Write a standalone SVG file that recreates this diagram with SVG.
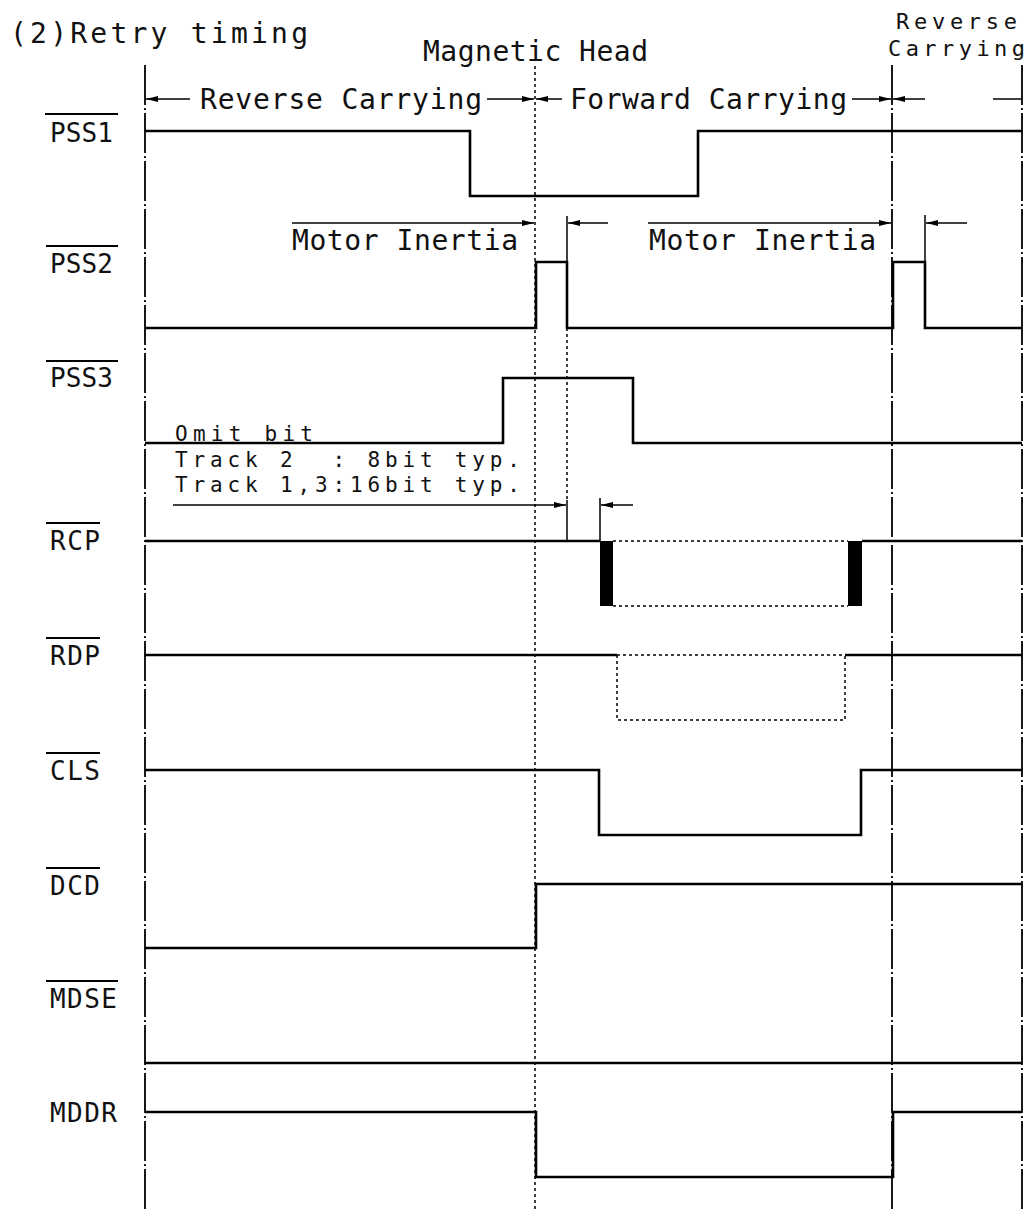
<svg xmlns="http://www.w3.org/2000/svg" width="1034" height="1209" viewBox="0 0 1034 1209">
<defs>
<marker id="arr" viewBox="0 0 12 6" refX="12" refY="3" markerWidth="12" markerHeight="6" markerUnits="userSpaceOnUse" orient="auto">
<path d="M0,0 L12,3 L0,6 Z" fill="#000"/>
</marker>
</defs>
<style>
text{font-family:"DejaVu Sans Mono","Liberation Mono",monospace;fill:#111;white-space:pre}
.t{font-size:28px}
.r{font-size:22px}
.s{font-size:21px}
.lb{font-size:26px}
.sig{fill:none;stroke:#000;stroke-width:2.6;stroke-linejoin:miter}
.bd{fill:none;stroke:#000;stroke-width:1.8;stroke-dasharray:40 3 2 3}
.dot{fill:none;stroke:#000;stroke-width:1.5;stroke-dasharray:3 3}
.dim{fill:none;stroke:#000;stroke-width:1.5}
.ov{stroke:#000;stroke-width:2}
</style>
<rect width="1034" height="1209" fill="#fff"/>

<g id="titles">
<text class="t" x="10" y="43" textLength="298" lengthAdjust="spacing">(2)Retry timing</text>
<text class="t" x="423" y="61" textLength="225" lengthAdjust="spacing">Magnetic Head</text>
<text class="r" x="896" y="29" textLength="121" lengthAdjust="spacing">Reverse</text>
<text class="r" x="888" y="56" textLength="137" lengthAdjust="spacing">Carrying</text>
</g>

<g id="connectors">
<line class="bd" x1="145" y1="65" x2="145" y2="1209"/>
<line class="bd" x1="892" y1="65" x2="892" y2="1209"/>
<line class="bd" x1="1022" y1="65" x2="1022" y2="1209"/>
<line class="dot" x1="535" y1="66" x2="535" y2="1209"/>
<line class="dot" x1="567" y1="328" x2="567" y2="500"/>
<line class="dim" x1="567" y1="500" x2="567" y2="541"/>
<line class="dim" x1="600" y1="498" x2="600" y2="541"/>
<line class="dim" x1="567" y1="216" x2="567" y2="262"/>
<line class="dim" x1="925" y1="215" x2="925" y2="262"/>
<line class="dim" x1="190" y1="99" x2="146" y2="99" marker-end="url(#arr)"/>
<line class="dim" x1="487" y1="99" x2="534" y2="99" marker-end="url(#arr)"/>
<line class="dim" x1="562" y1="99" x2="536" y2="99" marker-end="url(#arr)"/>
<line class="dim" x1="852" y1="99" x2="891" y2="99" marker-end="url(#arr)"/>
<line class="dim" x1="925" y1="99" x2="893" y2="99" marker-end="url(#arr)"/>
<line class="dim" x1="993" y1="99" x2="1022" y2="99"/>
<line class="dim" x1="292" y1="223" x2="534" y2="223" marker-end="url(#arr)"/>
<line class="dim" x1="608" y1="223" x2="568" y2="223" marker-end="url(#arr)"/>
<line class="dim" x1="648" y1="223" x2="891" y2="223" marker-end="url(#arr)"/>
<line class="dim" x1="967" y1="223" x2="926" y2="223" marker-end="url(#arr)"/>
<line class="dim" x1="173" y1="505" x2="566" y2="505" marker-end="url(#arr)"/>
<line class="dim" x1="633" y1="505" x2="601" y2="505" marker-end="url(#arr)"/>
</g>

<g id="annotations">
<text class="t" x="200" y="109" textLength="282" lengthAdjust="spacing">Reverse Carrying</text>
<text class="t" x="570" y="109" textLength="277" lengthAdjust="spacing">Forward Carrying</text>
<text class="t" x="292" y="250" textLength="226" lengthAdjust="spacing">Motor Inertia</text>
<text class="t" x="649" y="250" textLength="227" lengthAdjust="spacing">Motor Inertia</text>
<text class="s" x="175" y="441" textLength="138" lengthAdjust="spacing">Omit bit</text>
<text class="s" x="175" y="467" textLength="345" lengthAdjust="spacing">Track 2  : 8bit typ.</text>
<text class="s" x="175" y="492" textLength="345" lengthAdjust="spacing">Track 1,3:16bit typ.</text>
</g>

<g id="PSS1">
<line class="ov" x1="45" y1="114" x2="118" y2="114"/>
<text class="lb" x="50" y="142" textLength="63" lengthAdjust="spacing">PSS1</text>
<polyline class="sig" points="145,131 470,131 470,196 698,196 698,131 1022,131"/>
</g>

<g id="PSS2">
<line class="ov" x1="46" y1="246" x2="118" y2="246"/>
<text class="lb" x="50" y="273" textLength="63" lengthAdjust="spacing">PSS2</text>
<polyline class="sig" points="145,328 536,328 536,262 567,262 567,328 893,328 893,262 925,262 925,328 1022,328"/>
</g>

<g id="PSS3">
<line class="ov" x1="46" y1="361" x2="118" y2="361"/>
<text class="lb" x="50" y="387" textLength="63" lengthAdjust="spacing">PSS3</text>
<polyline class="sig" points="145,443 503,443 503,378 633,378 633,443 1022,443"/>
</g>

<g id="RCP">
<line class="ov" x1="46" y1="523" x2="100" y2="523"/>
<text class="lb" x="50" y="550" textLength="50" lengthAdjust="spacing">RCP</text>
<polyline class="sig" points="145,541 600,541"/>
<polyline class="sig" points="862,541 1022,541"/>
<rect x="600" y="541" width="13" height="65" fill="#000"/>
<rect x="848" y="541" width="14" height="65" fill="#000"/>
<line class="dot" x1="613" y1="541" x2="848" y2="541"/>
<line class="dot" x1="613" y1="606" x2="848" y2="606"/>
</g>

<g id="RDP">
<line class="ov" x1="46" y1="638" x2="100" y2="638"/>
<text class="lb" x="50" y="665" textLength="50" lengthAdjust="spacing">RDP</text>
<polyline class="sig" points="145,655 617,655"/>
<polyline class="sig" points="845,655 1022,655"/>
<polyline class="dot" points="617,655 617,720 845,720 845,655"/>
<line class="dot" x1="617" y1="655" x2="845" y2="655"/>
</g>

<g id="CLS">
<line class="ov" x1="46" y1="753" x2="100" y2="753"/>
<text class="lb" x="50" y="780" textLength="50" lengthAdjust="spacing">CLS</text>
<polyline class="sig" points="145,770 599,770 599,835 861,835 861,770 1022,770"/>
</g>

<g id="DCD">
<line class="ov" x1="46" y1="868" x2="100" y2="868"/>
<text class="lb" x="50" y="895" textLength="50" lengthAdjust="spacing">DCD</text>
<polyline class="sig" points="145,948 536,948 536,884 1022,884"/>
</g>

<g id="MDSE">
<line class="ov" x1="46" y1="981" x2="118" y2="981"/>
<text class="lb" x="50" y="1008" textLength="67" lengthAdjust="spacing">MDSE</text>
<polyline class="sig" points="145,1063 1022,1063"/>
</g>

<g id="MDDR">
<text class="lb" x="50" y="1122" textLength="67" lengthAdjust="spacing">MDDR</text>
<polyline class="sig" points="145,1112 536,1112 536,1177 893,1177 893,1112 1022,1112"/>
</g>
</svg>
